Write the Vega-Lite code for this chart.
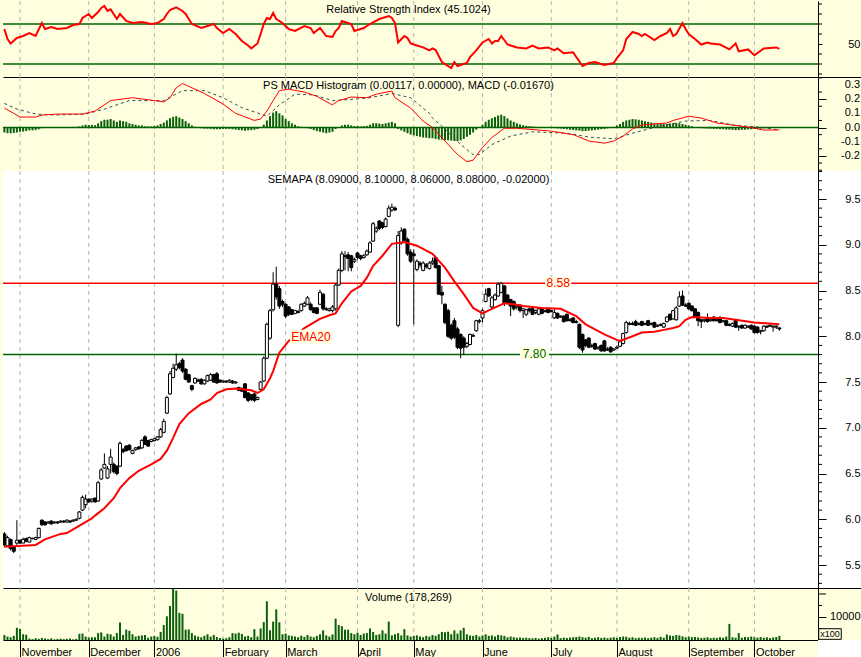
{
"$schema": "https://vega.github.io/schema/vega-lite/v6.json",
"padding": 0,
"spacing": 0,
"bounds": "flush",
"background": "#ffffe0",
"config": {
  "view": {"stroke": null},
  "font": "Liberation Sans",
  "scale": {"continuousPadding": 0},
  "title": {"font": "Liberation Sans", "fontSize": 11, "fontWeight": "normal", "color": "black", "anchor": "middle", "frame": "group", "dx": -25},
  "axis": {"labelFont": "Liberation Sans", "labelFontSize": 11, "labelColor": "black", "domainColor": "black", "tickColor": "black", "labelOverlap": false, "labelFlush": false}
},
"datasets": {
  "months": [{"i":0},{"i":22},{"i":43},{"i":65},{"i":85},{"i":108},{"i":126},{"i":148},{"i":170},{"i":191},{"i":214},{"i":235}],
  "px": [
{"i":-5,"o":5.84,"h":5.86,"l":5.70,"c":5.72,"v":2200,"g":-0.035},
{"i":-4,"o":5.71,"h":5.82,"l":5.70,"c":5.80,"v":1500,"g":-0.04},
{"i":-3,"o":5.78,"h":5.79,"l":5.66,"c":5.68,"v":1200,"g":-0.04},
{"i":-2,"o":5.70,"h":5.71,"l":5.63,"c":5.65,"v":1800,"g":-0.038},
{"i":-1,"o":5.74,"h":5.99,"l":5.72,"c":5.77,"v":5300,"g":-0.035},
{"i":0,"o":5.77,"h":5.78,"l":5.73,"c":5.74,"v":4800,"g":-0.03},
{"i":1,"o":5.74,"h":5.80,"l":5.74,"c":5.78,"v":2500,"g":-0.028},
{"i":2,"o":5.79,"h":5.80,"l":5.75,"c":5.76,"v":2300,"g":-0.025},
{"i":3,"o":5.75,"h":5.81,"l":5.75,"c":5.80,"v":600,"g":-0.02},
{"i":4,"o":5.79,"h":5.80,"l":5.78,"c":5.79,"v":400,"g":-0.02},
{"i":5,"o":5.78,"h":5.81,"l":5.77,"c":5.80,"v":800,"g":-0.018},
{"i":6,"o":5.80,"h":5.91,"l":5.79,"c":5.90,"v":500,"g":-0.012},
{"i":7,"o":5.99,"h":6.00,"l":5.93,"c":5.94,"v":900,"g":-0.005},
{"i":8,"o":5.97,"h":5.98,"l":5.93,"c":5.94,"v":600,"g":-0.003},
{"i":9,"o":5.96,"h":5.98,"l":5.95,"c":5.97,"v":400,"g":0.0},
{"i":10,"o":5.98,"h":5.99,"l":5.94,"c":5.95,"v":700,"g":0.002},
{"i":11,"o":5.96,"h":5.98,"l":5.95,"c":5.97,"v":300,"g":0.002},
{"i":12,"o":5.97,"h":5.98,"l":5.95,"c":5.96,"v":500,"g":0.003},
{"i":13,"o":5.97,"h":5.99,"l":5.96,"c":5.98,"v":600,"g":0.003},
{"i":14,"o":5.98,"h":5.99,"l":5.96,"c":5.97,"v":400,"g":0.003},
{"i":15,"o":5.97,"h":6.00,"l":5.96,"c":5.99,"v":500,"g":0.004},
{"i":16,"o":5.98,"h":5.99,"l":5.96,"c":5.97,"v":600,"g":0.004},
{"i":17,"o":5.98,"h":6.00,"l":5.97,"c":5.99,"v":300,"g":0.005},
{"i":18,"o":5.99,"h":6.01,"l":5.98,"c":6.00,"v":500,"g":0.005},
{"i":19,"o":6.01,"h":6.09,"l":6.00,"c":6.08,"v":2700,"g":0.008},
{"i":20,"o":6.10,"h":6.26,"l":6.09,"c":6.24,"v":2800,"g":0.015},
{"i":21,"o":6.16,"h":6.27,"l":6.12,"c":6.22,"v":1500,"g":0.02},
{"i":22,"o":6.22,"h":6.23,"l":6.18,"c":6.19,"v":1000,"g":0.018},
{"i":23,"o":6.20,"h":6.23,"l":6.18,"c":6.22,"v":1200,"g":0.018},
{"i":24,"o":6.23,"h":6.24,"l":6.18,"c":6.19,"v":1200,"g":0.016},
{"i":25,"o":6.20,"h":6.42,"l":6.19,"c":6.40,"v":3000,"g":0.03},
{"i":26,"o":6.44,"h":6.56,"l":6.43,"c":6.54,"v":3300,"g":0.045},
{"i":27,"o":6.56,"h":6.72,"l":6.55,"c":6.60,"v":1500,"g":0.055},
{"i":28,"o":6.45,"h":6.58,"l":6.44,"c":6.55,"v":2700,"g":0.055},
{"i":29,"o":6.60,"h":6.77,"l":6.50,"c":6.68,"v":2500,"g":0.06},
{"i":30,"o":6.60,"h":6.62,"l":6.50,"c":6.52,"v":1500,"g":0.05},
{"i":31,"o":6.58,"h":6.59,"l":6.48,"c":6.50,"v":3000,"g":0.04},
{"i":32,"o":6.58,"h":6.85,"l":6.57,"c":6.83,"v":7600,"g":0.05},
{"i":33,"o":6.76,"h":6.78,"l":6.72,"c":6.74,"v":2200,"g":0.045},
{"i":34,"o":6.80,"h":6.81,"l":6.74,"c":6.75,"v":4500,"g":0.04},
{"i":35,"o":6.81,"h":6.82,"l":6.75,"c":6.76,"v":4000,"g":0.03},
{"i":36,"o":6.72,"h":6.76,"l":6.71,"c":6.75,"v":2500,"g":0.025},
{"i":37,"o":6.76,"h":6.79,"l":6.75,"c":6.78,"v":1500,"g":0.02},
{"i":38,"o":6.79,"h":6.80,"l":6.76,"c":6.77,"v":1800,"g":0.015},
{"i":39,"o":6.78,"h":6.88,"l":6.77,"c":6.86,"v":2000,"g":0.015},
{"i":40,"o":6.90,"h":6.92,"l":6.81,"c":6.82,"v":2200,"g":0.01},
{"i":41,"o":6.86,"h":6.87,"l":6.79,"c":6.80,"v":1000,"g":0.008},
{"i":42,"o":6.85,"h":6.88,"l":6.84,"c":6.87,"v":1500,"g":0.008},
{"i":43,"o":6.86,"h":6.89,"l":6.85,"c":6.88,"v":1800,"g":0.01},
{"i":44,"o":6.87,"h":6.91,"l":6.86,"c":6.90,"v":1400,"g":0.015},
{"i":45,"o":6.90,"h":7.00,"l":6.89,"c":6.98,"v":3500,"g":0.025},
{"i":46,"o":6.95,"h":7.10,"l":6.94,"c":7.07,"v":6500,"g":0.035},
{"i":47,"o":7.16,"h":7.35,"l":7.15,"c":7.33,"v":10300,"g":0.05},
{"i":48,"o":7.37,"h":7.62,"l":7.36,"c":7.59,"v":14800,"g":0.065},
{"i":49,"o":7.55,"h":7.70,"l":7.54,"c":7.65,"v":22400,"g":0.075},
{"i":50,"o":7.64,"h":7.81,"l":7.62,"c":7.69,"v":21500,"g":0.08},
{"i":51,"o":7.70,"h":7.72,"l":7.64,"c":7.66,"v":11800,"g":0.07},
{"i":52,"o":7.74,"h":7.76,"l":7.60,"c":7.62,"v":11400,"g":0.06},
{"i":53,"o":7.64,"h":7.65,"l":7.52,"c":7.53,"v":4500,"g":0.045},
{"i":54,"o":7.58,"h":7.59,"l":7.49,"c":7.50,"v":4600,"g":0.03},
{"i":55,"o":7.46,"h":7.47,"l":7.40,"c":7.42,"v":3000,"g":0.015},
{"i":56,"o":7.49,"h":7.55,"l":7.48,"c":7.54,"v":2000,"g":0.005},
{"i":57,"o":7.52,"h":7.54,"l":7.50,"c":7.51,"v":1500,"g":0.0},
{"i":58,"o":7.53,"h":7.54,"l":7.47,"c":7.48,"v":1200,"g":-0.005},
{"i":59,"o":7.48,"h":7.53,"l":7.47,"c":7.52,"v":1800,"g":-0.008},
{"i":60,"o":7.51,"h":7.58,"l":7.50,"c":7.57,"v":2500,"g":-0.008},
{"i":61,"o":7.52,"h":7.60,"l":7.51,"c":7.58,"v":1500,"g":-0.01},
{"i":62,"o":7.58,"h":7.59,"l":7.49,"c":7.50,"v":2200,"g":-0.012},
{"i":63,"o":7.59,"h":7.61,"l":7.48,"c":7.49,"v":1300,"g":-0.012},
{"i":64,"o":7.52,"h":7.53,"l":7.49,"c":7.50,"v":900,"g":-0.012},
{"i":65,"o":7.50,"h":7.52,"l":7.49,"c":7.51,"v":600,"g":-0.01},
{"i":66,"o":7.51,"h":7.52,"l":7.49,"c":7.50,"v":800,"g":-0.01},
{"i":67,"o":7.50,"h":7.53,"l":7.49,"c":7.52,"v":1200,"g":-0.01},
{"i":68,"o":7.51,"h":7.52,"l":7.48,"c":7.49,"v":3000,"g":-0.012},
{"i":69,"o":7.49,"h":7.51,"l":7.48,"c":7.50,"v":2800,"g":-0.015},
{"i":70,"o":7.44,"h":7.45,"l":7.40,"c":7.41,"v":3200,"g":-0.018},
{"i":71,"o":7.43,"h":7.44,"l":7.39,"c":7.40,"v":2600,"g":-0.02},
{"i":72,"o":7.48,"h":7.49,"l":7.32,"c":7.33,"v":1500,"g":-0.022},
{"i":73,"o":7.38,"h":7.39,"l":7.28,"c":7.30,"v":1800,"g":-0.02},
{"i":74,"o":7.36,"h":7.37,"l":7.29,"c":7.31,"v":1200,"g":-0.018},
{"i":75,"o":7.37,"h":7.38,"l":7.28,"c":7.30,"v":4700,"g":-0.015},
{"i":76,"o":7.31,"h":7.34,"l":7.30,"c":7.33,"v":1500,"g":-0.01},
{"i":77,"o":7.42,"h":7.51,"l":7.41,"c":7.50,"v":5000,"g":0.0},
{"i":78,"o":7.51,"h":7.78,"l":7.50,"c":7.76,"v":7800,"g":0.02},
{"i":79,"o":7.76,"h":8.15,"l":7.75,"c":8.13,"v":16800,"g":0.05},
{"i":80,"o":7.98,"h":8.30,"l":7.96,"c":8.28,"v":4200,"g":0.08},
{"i":81,"o":8.29,"h":8.70,"l":8.27,"c":8.57,"v":8000,"g":0.105},
{"i":82,"o":8.57,"h":8.76,"l":8.40,"c":8.43,"v":13300,"g":0.115},
{"i":83,"o":8.52,"h":8.55,"l":8.30,"c":8.33,"v":7700,"g":0.1},
{"i":84,"o":8.38,"h":8.40,"l":8.32,"c":8.35,"v":2500,"g":0.085},
{"i":85,"o":8.35,"h":8.36,"l":8.20,"c":8.22,"v":2800,"g":0.06},
{"i":86,"o":8.32,"h":8.33,"l":8.22,"c":8.24,"v":2000,"g":0.045},
{"i":87,"o":8.29,"h":8.30,"l":8.23,"c":8.24,"v":1800,"g":0.03},
{"i":88,"o":8.25,"h":8.29,"l":8.24,"c":8.28,"v":1500,"g":0.02},
{"i":89,"o":8.27,"h":8.29,"l":8.25,"c":8.26,"v":1200,"g":0.01},
{"i":90,"o":8.28,"h":8.36,"l":8.27,"c":8.35,"v":1900,"g":0.005},
{"i":91,"o":8.33,"h":8.38,"l":8.32,"c":8.36,"v":1400,"g":0.0},
{"i":92,"o":8.35,"h":8.44,"l":8.34,"c":8.42,"v":2200,"g":-0.005},
{"i":93,"o":8.35,"h":8.37,"l":8.28,"c":8.29,"v":1500,"g":-0.01},
{"i":94,"o":8.31,"h":8.32,"l":8.25,"c":8.26,"v":1200,"g":-0.018},
{"i":95,"o":8.31,"h":8.32,"l":8.24,"c":8.25,"v":1800,"g":-0.025},
{"i":96,"o":8.35,"h":8.51,"l":8.34,"c":8.48,"v":2500,"g":-0.03},
{"i":97,"o":8.46,"h":8.47,"l":8.28,"c":8.30,"v":4200,"g":-0.035},
{"i":98,"o":8.30,"h":8.32,"l":8.28,"c":8.29,"v":2000,"g":-0.04},
{"i":99,"o":8.28,"h":8.31,"l":8.27,"c":8.30,"v":1500,"g":-0.035},
{"i":100,"o":8.28,"h":8.34,"l":8.26,"c":8.32,"v":2400,"g":-0.03},
{"i":101,"o":8.30,"h":8.58,"l":8.28,"c":8.56,"v":9300,"g":-0.01},
{"i":102,"o":8.56,"h":8.74,"l":8.55,"c":8.72,"v":6500,"g":0.0},
{"i":103,"o":8.72,"h":8.93,"l":8.70,"c":8.90,"v":6000,"g":0.015},
{"i":104,"o":8.88,"h":8.93,"l":8.72,"c":8.87,"v":4500,"g":0.02},
{"i":105,"o":8.89,"h":8.92,"l":8.71,"c":8.85,"v":4500,"g":0.02},
{"i":106,"o":8.88,"h":8.89,"l":8.71,"c":8.75,"v":3000,"g":0.015},
{"i":107,"o":8.82,"h":8.86,"l":8.80,"c":8.84,"v":2500,"g":0.01},
{"i":108,"o":8.91,"h":8.92,"l":8.84,"c":8.86,"v":3200,"g":0.01},
{"i":109,"o":8.88,"h":8.89,"l":8.83,"c":8.85,"v":2200,"g":0.008},
{"i":110,"o":8.86,"h":8.90,"l":8.85,"c":8.88,"v":2800,"g":0.01},
{"i":111,"o":8.89,"h":8.95,"l":8.88,"c":8.93,"v":3000,"g":0.012},
{"i":112,"o":8.92,"h":9.04,"l":8.91,"c":9.02,"v":5000,"g":0.02},
{"i":113,"o":9.04,"h":9.25,"l":9.03,"c":9.23,"v":3500,"g":0.03},
{"i":114,"o":9.15,"h":9.20,"l":9.13,"c":9.18,"v":2200,"g":0.03},
{"i":115,"o":9.26,"h":9.27,"l":9.16,"c":9.18,"v":2500,"g":0.028},
{"i":116,"o":9.24,"h":9.25,"l":9.17,"c":9.19,"v":4200,"g":0.025},
{"i":117,"o":9.20,"h":9.30,"l":9.19,"c":9.28,"v":2800,"g":0.03},
{"i":118,"o":9.31,"h":9.43,"l":9.30,"c":9.40,"v":8000,"g":0.035},
{"i":119,"o":9.38,"h":9.45,"l":9.36,"c":9.41,"v":2000,"g":0.04},
{"i":120,"o":9.40,"h":9.42,"l":9.37,"c":9.38,"v":2500,"g":0.03},
{"i":121,"o":8.12,"h":9.15,"l":8.10,"c":9.10,"v":3000,"g":-0.01},
{"i":122,"o":9.02,"h":9.19,"l":9.00,"c":9.15,"v":2000,"g":-0.02},
{"i":123,"o":9.17,"h":9.18,"l":9.02,"c":9.05,"v":4700,"g":-0.03},
{"i":124,"o":9.06,"h":9.08,"l":8.88,"c":8.90,"v":2000,"g":-0.04},
{"i":125,"o":8.92,"h":8.95,"l":8.80,"c":8.82,"v":1500,"g":-0.05},
{"i":126,"o":8.90,"h":8.95,"l":8.13,"c":8.88,"v":1800,"g":-0.055},
{"i":127,"o":8.73,"h":8.84,"l":8.71,"c":8.82,"v":2000,"g":-0.06},
{"i":128,"o":8.80,"h":8.82,"l":8.75,"c":8.78,"v":1500,"g":-0.065},
{"i":129,"o":8.72,"h":8.82,"l":8.71,"c":8.80,"v":1200,"g":-0.07},
{"i":130,"o":8.78,"h":8.80,"l":8.74,"c":8.76,"v":1800,"g":-0.072},
{"i":131,"o":8.74,"h":8.82,"l":8.73,"c":8.80,"v":1500,"g":-0.075},
{"i":132,"o":8.80,"h":8.86,"l":8.78,"c":8.82,"v":2200,"g":-0.075},
{"i":133,"o":8.86,"h":8.88,"l":8.74,"c":8.75,"v":1800,"g":-0.08},
{"i":134,"o":8.77,"h":8.78,"l":8.45,"c":8.46,"v":2500,"g":-0.085},
{"i":135,"o":8.48,"h":8.55,"l":8.35,"c":8.45,"v":3500,"g":-0.085},
{"i":136,"o":8.35,"h":8.36,"l":8.13,"c":8.15,"v":3400,"g":-0.09},
{"i":137,"o":8.28,"h":8.30,"l":7.98,"c":8.00,"v":3600,"g":-0.09},
{"i":138,"o":8.12,"h":8.14,"l":7.96,"c":7.98,"v":2500,"g":-0.092},
{"i":139,"o":8.17,"h":8.20,"l":7.97,"c":7.99,"v":4200,"g":-0.095},
{"i":140,"o":8.08,"h":8.10,"l":7.86,"c":7.88,"v":2800,"g":-0.095},
{"i":141,"o":8.02,"h":8.03,"l":7.76,"c":7.87,"v":4200,"g":-0.09},
{"i":142,"o":7.98,"h":8.00,"l":7.80,"c":7.88,"v":5300,"g":-0.08},
{"i":143,"o":7.89,"h":7.94,"l":7.87,"c":7.92,"v":2500,"g":-0.065},
{"i":144,"o":7.91,"h":8.03,"l":7.90,"c":8.02,"v":2000,"g":-0.05},
{"i":145,"o":8.00,"h":8.03,"l":7.99,"c":8.01,"v":1800,"g":-0.035},
{"i":146,"o":8.06,"h":8.18,"l":8.05,"c":8.17,"v":2200,"g":-0.015},
{"i":147,"o":8.16,"h":8.19,"l":8.14,"c":8.17,"v":1500,"g":0.0},
{"i":148,"o":8.20,"h":8.30,"l":8.15,"c":8.28,"v":2000,"g":0.02},
{"i":149,"o":8.38,"h":8.52,"l":8.37,"c":8.46,"v":2500,"g":0.04},
{"i":150,"o":8.52,"h":8.53,"l":8.43,"c":8.44,"v":1800,"g":0.055},
{"i":151,"o":8.32,"h":8.44,"l":8.30,"c":8.42,"v":2000,"g":0.065},
{"i":152,"o":8.40,"h":8.47,"l":8.39,"c":8.45,"v":1500,"g":0.075},
{"i":153,"o":8.44,"h":8.59,"l":8.43,"c":8.57,"v":2200,"g":0.085},
{"i":154,"o":8.48,"h":8.59,"l":8.47,"c":8.58,"v":2000,"g":0.09},
{"i":155,"o":8.55,"h":8.56,"l":8.33,"c":8.36,"v":1800,"g":0.08},
{"i":156,"o":8.45,"h":8.46,"l":8.35,"c":8.37,"v":1200,"g":0.065},
{"i":157,"o":8.40,"h":8.41,"l":8.22,"c":8.33,"v":1500,"g":0.05},
{"i":158,"o":8.38,"h":8.39,"l":8.28,"c":8.30,"v":1200,"g":0.04},
{"i":159,"o":8.32,"h":8.35,"l":8.29,"c":8.33,"v":1000,"g":0.03},
{"i":160,"o":8.34,"h":8.35,"l":8.26,"c":8.28,"v":1100,"g":0.022},
{"i":161,"o":8.28,"h":8.31,"l":8.20,"c":8.30,"v":900,"g":0.016},
{"i":162,"o":8.24,"h":8.30,"l":8.22,"c":8.29,"v":1000,"g":0.012},
{"i":163,"o":8.30,"h":8.31,"l":8.26,"c":8.28,"v":800,"g":0.01},
{"i":164,"o":8.30,"h":8.31,"l":8.23,"c":8.24,"v":700,"g":0.008},
{"i":165,"o":8.26,"h":8.29,"l":8.24,"c":8.28,"v":900,"g":0.005},
{"i":166,"o":8.24,"h":8.31,"l":8.23,"c":8.30,"v":600,"g":0.004},
{"i":167,"o":8.30,"h":8.31,"l":8.24,"c":8.25,"v":800,"g":0.003},
{"i":168,"o":8.27,"h":8.29,"l":8.26,"c":8.28,"v":1000,"g":0.002},
{"i":169,"o":8.30,"h":8.31,"l":8.25,"c":8.26,"v":1200,"g":0.0},
{"i":170,"o":8.28,"h":8.29,"l":8.26,"c":8.27,"v":900,"g":-0.002},
{"i":171,"o":8.20,"h":8.30,"l":8.19,"c":8.26,"v":1500,"g":-0.004},
{"i":172,"o":8.25,"h":8.26,"l":8.19,"c":8.20,"v":2400,"g":-0.006},
{"i":173,"o":8.22,"h":8.23,"l":8.20,"c":8.21,"v":800,"g":-0.008},
{"i":174,"o":8.22,"h":8.23,"l":8.15,"c":8.16,"v":1000,"g":-0.01},
{"i":175,"o":8.24,"h":8.25,"l":8.16,"c":8.17,"v":900,"g":-0.012},
{"i":176,"o":8.18,"h":8.20,"l":8.16,"c":8.17,"v":1100,"g":-0.015},
{"i":177,"o":8.20,"h":8.21,"l":8.14,"c":8.15,"v":1200,"g":-0.018},
{"i":178,"o":8.16,"h":8.18,"l":8.14,"c":8.15,"v":1300,"g":-0.02},
{"i":179,"o":8.13,"h":8.14,"l":7.86,"c":7.88,"v":1500,"g":-0.022},
{"i":180,"o":8.02,"h":8.03,"l":7.82,"c":7.85,"v":1200,"g":-0.025},
{"i":181,"o":7.96,"h":7.97,"l":7.88,"c":7.90,"v":1000,"g":-0.025},
{"i":182,"o":7.98,"h":7.99,"l":7.87,"c":7.88,"v":1400,"g":-0.022},
{"i":183,"o":7.89,"h":7.92,"l":7.87,"c":7.90,"v":800,"g":-0.02},
{"i":184,"o":7.92,"h":7.93,"l":7.85,"c":7.86,"v":1000,"g":-0.018},
{"i":185,"o":7.87,"h":7.89,"l":7.85,"c":7.88,"v":1200,"g":-0.015},
{"i":186,"o":7.90,"h":7.91,"l":7.83,"c":7.84,"v":900,"g":-0.012},
{"i":187,"o":7.95,"h":7.96,"l":7.83,"c":7.84,"v":1100,"g":-0.01},
{"i":188,"o":7.86,"h":7.88,"l":7.84,"c":7.85,"v":800,"g":-0.006},
{"i":189,"o":7.88,"h":7.89,"l":7.82,"c":7.83,"v":1000,"g":-0.002},
{"i":190,"o":7.85,"h":7.87,"l":7.84,"c":7.86,"v":1200,"g":0.005},
{"i":191,"o":7.87,"h":7.90,"l":7.86,"c":7.88,"v":900,"g":0.015},
{"i":192,"o":7.89,"h":7.95,"l":7.88,"c":7.94,"v":1300,"g":0.025},
{"i":193,"o":7.92,"h":8.04,"l":7.91,"c":8.03,"v":1500,"g":0.04},
{"i":194,"o":8.04,"h":8.17,"l":8.03,"c":8.15,"v":1400,"g":0.05},
{"i":195,"o":8.13,"h":8.16,"l":8.12,"c":8.14,"v":1000,"g":0.055},
{"i":196,"o":8.14,"h":8.16,"l":8.12,"c":8.13,"v":1200,"g":0.06},
{"i":197,"o":8.16,"h":8.18,"l":8.11,"c":8.12,"v":800,"g":0.058},
{"i":198,"o":8.13,"h":8.15,"l":8.12,"c":8.14,"v":1000,"g":0.055},
{"i":199,"o":8.16,"h":8.17,"l":8.11,"c":8.12,"v":900,"g":0.05},
{"i":200,"o":8.13,"h":8.15,"l":8.12,"c":8.14,"v":1100,"g":0.045},
{"i":201,"o":8.17,"h":8.18,"l":8.11,"c":8.12,"v":800,"g":0.04},
{"i":202,"o":8.13,"h":8.15,"l":8.12,"c":8.14,"v":1000,"g":0.035},
{"i":203,"o":8.15,"h":8.16,"l":8.09,"c":8.10,"v":1200,"g":0.03},
{"i":204,"o":8.11,"h":8.13,"l":8.10,"c":8.12,"v":900,"g":0.028},
{"i":205,"o":8.12,"h":8.14,"l":8.11,"c":8.13,"v":1400,"g":0.026},
{"i":206,"o":8.10,"h":8.15,"l":8.09,"c":8.14,"v":1000,"g":0.025},
{"i":207,"o":8.16,"h":8.22,"l":8.15,"c":8.21,"v":2400,"g":0.025},
{"i":208,"o":8.24,"h":8.25,"l":8.17,"c":8.18,"v":2000,"g":0.028},
{"i":209,"o":8.19,"h":8.29,"l":8.18,"c":8.28,"v":1800,"g":0.03},
{"i":210,"o":8.18,"h":8.33,"l":8.17,"c":8.31,"v":2200,"g":0.032},
{"i":211,"o":8.33,"h":8.49,"l":8.32,"c":8.43,"v":2000,"g":0.03},
{"i":212,"o":8.44,"h":8.50,"l":8.33,"c":8.34,"v":1600,"g":0.025},
{"i":213,"o":8.34,"h":8.36,"l":8.32,"c":8.33,"v":1200,"g":0.02},
{"i":214,"o":8.36,"h":8.37,"l":8.29,"c":8.30,"v":1500,"g":0.015},
{"i":215,"o":8.33,"h":8.34,"l":8.27,"c":8.28,"v":1200,"g":0.01},
{"i":216,"o":8.30,"h":8.31,"l":8.20,"c":8.21,"v":1300,"g":0.003},
{"i":217,"o":8.26,"h":8.27,"l":8.11,"c":8.17,"v":1100,"g":-0.002},
{"i":218,"o":8.18,"h":8.19,"l":8.09,"c":8.16,"v":900,"g":-0.005},
{"i":219,"o":8.17,"h":8.19,"l":8.15,"c":8.18,"v":1000,"g":-0.006},
{"i":220,"o":8.20,"h":8.25,"l":8.15,"c":8.16,"v":1200,"g":-0.008},
{"i":221,"o":8.17,"h":8.19,"l":8.16,"c":8.18,"v":800,"g":-0.008},
{"i":222,"o":8.21,"h":8.22,"l":8.16,"c":8.17,"v":1000,"g":-0.01},
{"i":223,"o":8.18,"h":8.19,"l":8.16,"c":8.17,"v":900,"g":-0.01},
{"i":224,"o":8.20,"h":8.22,"l":8.14,"c":8.15,"v":1200,"g":-0.012},
{"i":225,"o":8.16,"h":8.18,"l":8.15,"c":8.17,"v":1000,"g":-0.012},
{"i":226,"o":8.17,"h":8.18,"l":8.11,"c":8.12,"v":1500,"g":-0.014},
{"i":227,"o":8.13,"h":8.14,"l":8.11,"c":8.12,"v":7000,"g":-0.015},
{"i":228,"o":8.11,"h":8.15,"l":8.10,"c":8.14,"v":1200,"g":-0.016},
{"i":229,"o":8.18,"h":8.19,"l":8.09,"c":8.10,"v":1000,"g":-0.018},
{"i":230,"o":8.11,"h":8.12,"l":8.06,"c":8.10,"v":3000,"g":-0.018},
{"i":231,"o":8.12,"h":8.13,"l":8.08,"c":8.09,"v":1000,"g":-0.016},
{"i":232,"o":8.09,"h":8.13,"l":8.08,"c":8.12,"v":1300,"g":-0.015},
{"i":233,"o":8.11,"h":8.12,"l":8.09,"c":8.10,"v":1200,"g":-0.013},
{"i":234,"o":8.12,"h":8.13,"l":8.07,"c":8.08,"v":1500,"g":-0.012},
{"i":235,"o":8.11,"h":8.12,"l":8.03,"c":8.04,"v":1200,"g":-0.01},
{"i":236,"o":8.10,"h":8.11,"l":8.03,"c":8.04,"v":1000,"g":-0.009},
{"i":237,"o":8.05,"h":8.07,"l":8.02,"c":8.06,"v":1300,"g":-0.008},
{"i":238,"o":8.06,"h":8.12,"l":8.05,"c":8.11,"v":1000,"g":-0.006},
{"i":239,"o":8.11,"h":8.12,"l":8.09,"c":8.10,"v":1200,"g":-0.005},
{"i":240,"o":8.11,"h":8.13,"l":8.10,"c":8.12,"v":900,"g":-0.004},
{"i":241,"o":8.10,"h":8.12,"l":8.05,"c":8.11,"v":1100,"g":-0.002},
{"i":242,"o":8.11,"h":8.12,"l":8.08,"c":8.10,"v":1300,"g":0.0},
{"i":243,"o":8.09,"h":8.10,"l":8.06,"c":8.08,"v":1783,"g":0.001}
  ],
  "rsi": [
{"i":-5,"r":65},{"i":-4,"r":55},{"i":-3,"r":50.5},{"i":-1,"r":56},{"i":1,"r":58},{"i":3,"r":61},{"i":5,"r":58},{"i":7,"r":71},{"i":8,"r":65},{"i":10,"r":67},{"i":12,"r":65},{"i":15,"r":66},{"i":17,"r":69},{"i":19,"r":70},{"i":20,"r":76},{"i":22,"r":80},{"i":23,"r":76},{"i":25,"r":82},{"i":26,"r":86},{"i":27,"r":88},{"i":28,"r":83},{"i":29,"r":84.6},{"i":31,"r":75},{"i":32,"r":80},{"i":34,"r":73},{"i":36,"r":71},{"i":39,"r":72},{"i":42,"r":70},{"i":44,"r":71},{"i":46,"r":75},{"i":47,"r":80},{"i":48,"r":84},{"i":50,"r":86.6},{"i":52,"r":83},{"i":53,"r":80},{"i":55,"r":70},{"i":58,"r":66},{"i":60,"r":68},{"i":62,"r":70},{"i":63,"r":66},{"i":65,"r":61},{"i":67,"r":65},{"i":69,"r":60},{"i":71,"r":53},{"i":73,"r":48.5},{"i":74,"r":45.6},{"i":76,"r":50.5},{"i":77,"r":60},{"i":78,"r":70},{"i":79,"r":76},{"i":80,"r":75},{"i":81,"r":81},{"i":82,"r":75},{"i":84,"r":71},{"i":86,"r":65},{"i":88,"r":63},{"i":91,"r":68},{"i":93,"r":66},{"i":94,"r":61},{"i":96,"r":66},{"i":98,"r":58},{"i":100,"r":57},{"i":101,"r":63},{"i":102,"r":66},{"i":103,"r":73},{"i":106,"r":70},{"i":107,"r":63},{"i":110,"r":66},{"i":112,"r":70},{"i":115,"r":75},{"i":118,"r":78},{"i":119,"r":76},{"i":120,"r":71},{"i":121,"r":51.5},{"i":123,"r":58},{"i":124,"r":56},{"i":125,"r":50.5},{"i":127,"r":48.5},{"i":129,"r":46.6},{"i":131,"r":43.6},{"i":132,"r":45.6},{"i":133,"r":44},{"i":135,"r":32},{"i":138,"r":26},{"i":139,"r":32},{"i":140,"r":28},{"i":143,"r":31},{"i":144,"r":37},{"i":146,"r":43.6},{"i":148,"r":51.5},{"i":150,"r":55},{"i":151,"r":50.5},{"i":152,"r":53},{"i":153,"r":53},{"i":154,"r":58},{"i":156,"r":49.5},{"i":159,"r":46.6},{"i":162,"r":45.6},{"i":164,"r":48.5},{"i":166,"r":45.6},{"i":169,"r":46.6},{"i":171,"r":43.6},{"i":172,"r":45.6},{"i":174,"r":40.7},{"i":177,"r":41.7},{"i":178,"r":37},{"i":180,"r":28},{"i":182,"r":31},{"i":184,"r":32},{"i":187,"r":29},{"i":190,"r":31},{"i":191,"r":36},{"i":193,"r":43.6},{"i":194,"r":55},{"i":196,"r":62},{"i":198,"r":60},{"i":199,"r":58},{"i":200,"r":60},{"i":203,"r":54},{"i":205,"r":58},{"i":207,"r":61},{"i":208,"r":65},{"i":209,"r":58},{"i":210,"r":60},{"i":212,"r":71},{"i":213,"r":65},{"i":214,"r":60},{"i":216,"r":55},{"i":218,"r":49.5},{"i":220,"r":51.5},{"i":221,"r":50.5},{"i":224,"r":49.5},{"i":227,"r":44.6},{"i":229,"r":50.5},{"i":230,"r":42.7},{"i":233,"r":44.6},{"i":235,"r":38.8},{"i":238,"r":45.6},{"i":242,"r":46.6},{"i":243,"r":45.1}
  ],
  "ema": [
{"i":-5,"e":5.70},{"i":5,"e":5.72},{"i":8,"e":5.78},{"i":13,"e":5.84},{"i":15,"e":5.85},{"i":17,"e":5.89},{"i":20,"e":5.95},{"i":23,"e":6.01},{"i":24,"e":6.04},{"i":27,"e":6.12},{"i":30,"e":6.23},{"i":32,"e":6.34},{"i":35,"e":6.45},{"i":38,"e":6.53},{"i":42,"e":6.60},{"i":45,"e":6.66},{"i":47,"e":6.75},{"i":49,"e":6.89},{"i":51,"e":7.04},{"i":54,"e":7.16},{"i":58,"e":7.26},{"i":61,"e":7.31},{"i":63,"e":7.38},{"i":66,"e":7.42},{"i":69,"e":7.43},{"i":74,"e":7.41},{"i":76,"e":7.38},{"i":78,"e":7.42},{"i":80,"e":7.54},{"i":81,"e":7.62},{"i":83,"e":7.82},{"i":86,"e":7.95},{"i":91,"e":8.09},{"i":96,"e":8.19},{"i":99,"e":8.23},{"i":101,"e":8.25},{"i":103,"e":8.36},{"i":106,"e":8.49},{"i":109,"e":8.55},{"i":111,"e":8.64},{"i":113,"e":8.77},{"i":116,"e":8.88},{"i":119,"e":9.01},{"i":123,"e":9.03},{"i":127,"e":8.99},{"i":132,"e":8.90},{"i":136,"e":8.75},{"i":139,"e":8.60},{"i":142,"e":8.46},{"i":145,"e":8.31},{"i":148,"e":8.25},{"i":151,"e":8.30},{"i":155,"e":8.36},{"i":158,"e":8.35},{"i":161,"e":8.33},{"i":167,"e":8.31},{"i":173,"e":8.30},{"i":178,"e":8.22},{"i":181,"e":8.13},{"i":187,"e":8.02},{"i":191,"e":7.96},{"i":192,"e":7.95},{"i":196,"e":8.00},{"i":199,"e":8.04},{"i":203,"e":8.05},{"i":206,"e":8.07},{"i":209,"e":8.09},{"i":211,"e":8.11},{"i":213,"e":8.18},{"i":215,"e":8.21},{"i":221,"e":8.20},{"i":225,"e":8.20},{"i":229,"e":8.18},{"i":235,"e":8.15},{"i":243,"e":8.13}
  ],
  "macd": [
{"i":-5,"m":0.137},{"i":-2,"m":0.10},{"i":0,"m":0.074},{"i":5,"m":0.074},{"i":7,"m":0.088},{"i":12,"m":0.095},{"i":20,"m":0.095},{"i":24,"m":0.116},{"i":29,"m":0.19},{"i":36,"m":0.21},{"i":43,"m":0.19},{"i":46,"m":0.18},{"i":48,"m":0.21},{"i":50,"m":0.28},{"i":52,"m":0.31},{"i":54,"m":0.29},{"i":59,"m":0.24},{"i":65,"m":0.165},{"i":69,"m":0.10},{"i":75,"m":0.05},{"i":77,"m":0.06},{"i":79,"m":0.116},{"i":81,"m":0.19},{"i":83,"m":0.26},{"i":86,"m":0.27},{"i":91,"m":0.25},{"i":95,"m":0.22},{"i":99,"m":0.17},{"i":100,"m":0.16},{"i":102,"m":0.19},{"i":106,"m":0.215},{"i":111,"m":0.21},{"i":114,"m":0.235},{"i":119,"m":0.257},{"i":120,"m":0.21},{"i":125,"m":0.137},{"i":129,"m":0.046},{"i":132,"m":0.0},{"i":136,"m":-0.095},{"i":140,"m":-0.19},{"i":143,"m":-0.24},{"i":145,"m":-0.23},{"i":148,"m":-0.14},{"i":151,"m":-0.07},{"i":155,"m":-0.005},{"i":159,"m":-0.005},{"i":170,"m":-0.025},{"i":177,"m":-0.05},{"i":179,"m":-0.067},{"i":182,"m":-0.095},{"i":187,"m":-0.11},{"i":190,"m":-0.095},{"i":193,"m":-0.06},{"i":196,"m":-0.01},{"i":199,"m":0.018},{"i":207,"m":0.032},{"i":209,"m":0.05},{"i":214,"m":0.08},{"i":218,"m":0.067},{"i":223,"m":0.032},{"i":228,"m":0.018},{"i":234,"m":0.0},{"i":238,"m":-0.018},{"i":243,"m":-0.0167}
  ],
  "sig": [
{"i":-5,"s":0.17},{"i":-1,"s":0.13},{"i":5,"s":0.095},{"i":11,"s":0.088},{"i":21,"s":0.095},{"i":27,"s":0.13},{"i":35,"s":0.19},{"i":46,"s":0.19},{"i":52,"s":0.26},{"i":59,"s":0.26},{"i":65,"s":0.21},{"i":71,"s":0.14},{"i":79,"s":0.08},{"i":83,"s":0.16},{"i":88,"s":0.235},{"i":94,"s":0.23},{"i":100,"s":0.19},{"i":107,"s":0.20},{"i":112,"s":0.21},{"i":119,"s":0.24},{"i":125,"s":0.21},{"i":131,"s":0.10},{"i":132,"s":0.067},{"i":136,"s":-0.01},{"i":141,"s":-0.12},{"i":145,"s":-0.19},{"i":147,"s":-0.19},{"i":151,"s":-0.12},{"i":157,"s":-0.06},{"i":164,"s":-0.03},{"i":175,"s":-0.04},{"i":182,"s":-0.067},{"i":190,"s":-0.08},{"i":196,"s":-0.04},{"i":203,"s":0.0},{"i":213,"s":0.046},{"i":221,"s":0.05},{"i":228,"s":0.018},{"i":238,"s":0.0},{"i":243,"s":-0.018}
  ]
},
"vconcat": [
{
  "width": 861, "height": 76,
  "title": {"text": "Relative Strength Index (45.1024)", "offset": -14},
  "layer": [
    {"data": {"name": "months"}, "mark": {"type": "rule", "strokeDash": [4,4], "color": "#b4b4b4"},
     "encoding": {"x": {"field": "i", "type": "quantitative", "scale": {"domain": [-5.44, 270.08], "nice": false, "zero": false, "padding": 0},
       "axis": {"orient": "bottom", "domain": true, "ticks": false, "labels": false, "grid": false, "title": null}}}},
    {"data": {"values": [{"lvl": 70}, {"lvl": 30}]}, "mark": {"type": "rule", "color": "#006400", "strokeWidth": 1.5},
     "encoding": {"x": {"datum": -5.44, "type": "quantitative"}, "x2": {"datum": 255.4},
       "y": {"field": "lvl", "type": "quantitative", "scale": {"domain": [17, 93], "nice": false, "zero": false},
         "axis": {"orient": "right", "offset": -46, "title": null, "grid": false, "values": [50],
           "tickSize": 4, "labelAlign": "right", "labelPadding": 38, "labelOverlap": false}}}},
    {"data": {"values": [{"t": 20}, {"t": 30}, {"t": 40}, {"t": 60}, {"t": 70}, {"t": 80}, {"t": 90}]},
     "mark": {"type": "rule", "color": "black", "strokeWidth": 1},
     "encoding": {"x": {"datum": 255.36, "type": "quantitative"}, "x2": {"datum": 256.64}, "y": {"field": "t", "type": "quantitative"}}},
    {"data": {"name": "rsi"}, "mark": {"type": "line", "color": "#ff0000", "strokeWidth": 2},
     "encoding": {"x": {"field": "i", "type": "quantitative"}, "y": {"field": "r", "type": "quantitative"}}}
  ]
},
{
  "width": 861, "height": 94,
  "title": {"text": "PS MACD Histogram (0.00117, 0.00000), MACD (-0.01670)", "offset": -14},
  "layer": [
    {"data": {"name": "months"}, "mark": {"type": "rule", "strokeDash": [4,4], "color": "#b4b4b4"},
     "encoding": {"x": {"field": "i", "type": "quantitative", "scale": {"domain": [-5.44, 270.08], "nice": false, "zero": false, "padding": 0},
       "axis": {"orient": "bottom", "domain": true, "ticks": false, "labels": false, "grid": false, "title": null}}}},
    {"data": {"values": [{"lvl": 0}]}, "mark": {"type": "rule", "color": "#006400", "strokeWidth": 1.5},
     "encoding": {"x": {"datum": -5.44, "type": "quantitative"}, "x2": {"datum": 255.4},
       "y": {"field": "lvl", "type": "quantitative", "scale": {"domain": [-0.306, 0.356], "nice": false, "zero": false, "padding": 0},
         "axis": {"orient": "right", "offset": -46, "title": null, "grid": false,
           "values": [-0.2,-0.1,0,0.1,0.2,0.3], "labels": false, "tickSize": 8}}}},
    {"data": {"values": [{"t": -0.3}, {"t": -0.25}, {"t": -0.15}, {"t": -0.05}, {"t": 0.05}, {"t": 0.15}, {"t": 0.25}, {"t": 0.35}]},
     "mark": {"type": "rule", "color": "black", "strokeWidth": 1},
     "encoding": {"x": {"datum": 255.36, "type": "quantitative"}, "x2": {"datum": 256.64}, "y": {"field": "t", "type": "quantitative"}}},
    {"data": {"values": [{"t": 0.3, "s": "0.3"}, {"t": 0.2, "s": "0.2"}, {"t": 0.1, "s": "0.1"}, {"t": 0, "s": "0.0"}, {"t": -0.1, "s": "-0.1"}, {"t": -0.2, "s": "-0.2"}]},
     "mark": {"type": "text", "align": "right", "baseline": "middle", "fontSize": 11, "font": "Liberation Sans", "color": "black"},
     "encoding": {"x": {"datum": 268.8, "type": "quantitative"}, "y": {"field": "t", "type": "quantitative"}, "text": {"field": "s"}}},
    {"data": {"name": "px"}, "mark": {"type": "bar", "size": 2, "color": "#0a5f0a", "orient": "vertical"},
     "encoding": {"x": {"field": "i", "type": "quantitative"}, "y": {"field": "g", "type": "quantitative"}, "y2": {"datum": 0}}},
    {"data": {"name": "sig"}, "mark": {"type": "line", "color": "#2f4f4f", "strokeWidth": 1, "strokeDash": [3,3]},
     "encoding": {"x": {"field": "i", "type": "quantitative"}, "y": {"field": "s", "type": "quantitative"}}},
    {"data": {"name": "macd"}, "mark": {"type": "line", "color": "#ff0000", "strokeWidth": 1},
     "encoding": {"x": {"field": "i", "type": "quantitative"}, "y": {"field": "m", "type": "quantitative"}}}
  ]
},
{
  "width": 861, "height": 417,
  "view": {"fill": "white"},
  "title": {"text": "SEMAPA (8.09000, 8.10000, 8.06000, 8.08000, -0.02000)", "offset": -14},
  "layer": [
    {"data": {"name": "months"}, "mark": {"type": "rule", "strokeDash": [4,4], "color": "#b4b4b4"},
     "encoding": {"x": {"field": "i", "type": "quantitative", "scale": {"domain": [-5.44, 270.08], "nice": false, "zero": false, "padding": 0},
       "axis": {"orient": "bottom", "domain": true, "ticks": false, "labels": false, "grid": false, "title": null}}}},
    {"data": {"values": [{"lvl": 8.58, "k": "r"}, {"lvl": 7.80, "k": "g"}]}, "mark": {"type": "rule", "strokeWidth": 1.5},
     "encoding": {"x": {"datum": -5.44, "type": "quantitative"}, "x2": {"datum": 255.4},
       "color": {"field": "k", "type": "nominal", "scale": {"domain": ["r", "g"], "range": ["#ff0000", "#006400"]}, "legend": null},
       "y": {"field": "lvl", "type": "quantitative", "scale": {"domain": [5.249, 9.806], "nice": false, "zero": false, "padding": 0},
         "axis": {"orient": "right", "offset": -46, "title": null, "grid": false,
           "values": [5.5,6.0,6.5,7.0,7.5,8.0,8.5,9.0,9.5],
           "labelExpr": "format(datum.value, '.1f')",
           "tickSize": 8, "labelAlign": "right", "labelPadding": 34, "labelOverlap": false}}}},
    {"data": {"values": [{"t":5.3},{"t":5.4},{"t":5.6},{"t":5.7},{"t":5.8},{"t":5.9},{"t":6.1},{"t":6.2},{"t":6.3},{"t":6.4},{"t":6.6},{"t":6.7},{"t":6.8},{"t":6.9},{"t":7.1},{"t":7.2},{"t":7.3},{"t":7.4},{"t":7.6},{"t":7.7},{"t":7.8},{"t":7.9},{"t":8.1},{"t":8.2},{"t":8.3},{"t":8.4},{"t":8.6},{"t":8.7},{"t":8.8},{"t":8.9},{"t":9.1},{"t":9.2},{"t":9.3},{"t":9.4},{"t":9.6},{"t":9.7},{"t":9.8}]},
     "mark": {"type": "rule", "color": "black", "strokeWidth": 1},
     "encoding": {"x": {"datum": 255.36, "type": "quantitative"}, "x2": {"datum": 256.64}, "y": {"field": "t", "type": "quantitative"}}},
    {"data": {"name": "px"}, "mark": {"type": "rule", "color": "black", "strokeWidth": 1},
     "encoding": {"x": {"field": "i", "type": "quantitative"}, "y": {"field": "l", "type": "quantitative"}, "y2": {"field": "h"}}},
    {"data": {"name": "px"}, "mark": {"type": "bar", "size": 3, "stroke": "black", "strokeWidth": 1, "orient": "vertical", "clip": true},
     "encoding": {"x": {"field": "i", "type": "quantitative"}, "y": {"field": "o", "type": "quantitative"}, "y2": {"field": "c"},
       "fill": {"condition": {"test": "datum.c >= datum.o", "value": "white"}, "value": "black"}}},
    {"data": {"name": "ema"}, "mark": {"type": "line", "color": "#ff0000", "strokeWidth": 2},
     "encoding": {"x": {"field": "i", "type": "quantitative"}, "y": {"field": "e", "type": "quantitative"}}},
    {"data": {"values": [{"a": 168, "b": 176.4, "y1": 8.647, "y2": 8.524}, {"a": 160, "b": 169.3, "y1": 7.88, "y2": 7.75}, {"a": 86.4, "b": 99.8, "y1": 8.07, "y2": 7.92}]},
     "mark": {"type": "rect", "fill": "#ffffe0"},
     "encoding": {"x": {"field": "a", "type": "quantitative"}, "x2": {"field": "b"}, "y": {"field": "y1", "type": "quantitative"}, "y2": {"field": "y2"}}},
    {"data": {"values": [{"t": "8.58", "a": 172.2, "p": 8.585, "k": "r"}, {"t": "7.80", "a": 164.6, "p": 7.81, "k": "g"}, {"t": "EMA20", "a": 93.1, "p": 7.995, "k": "r"}]},
     "mark": {"type": "text", "fontSize": 12, "font": "Liberation Sans", "align": "center", "baseline": "middle"},
     "encoding": {"x": {"field": "a", "type": "quantitative"}, "y": {"field": "p", "type": "quantitative"}, "text": {"field": "t"},
       "color": {"field": "k", "type": "nominal", "scale": {"domain": ["r", "g"], "range": ["#ff0000", "#008000"]}, "legend": null}}}
  ]
},
{
  "width": 861, "height": 52,
  "title": {"text": "Volume (178,269)", "offset": -15},
  "layer": [
    {"data": {"values": [{"a": 255.36, "b": 270.08, "y1": 0, "y2": -8300}]}, "mark": {"type": "rect", "fill": "white", "clip": false},
     "encoding": {"x": {"field": "a", "type": "quantitative"}, "x2": {"field": "b"}, "y": {"field": "y1", "type": "quantitative"}, "y2": {"field": "y2"}}},
    {"data": {"name": "months"}, "mark": {"type": "rule", "strokeDash": [4,4], "color": "#b4b4b4"},
     "encoding": {"x": {"field": "i", "type": "quantitative", "scale": {"domain": [-5.44, 270.08], "nice": false, "zero": false, "padding": 0},
       "axis": {"orient": "bottom", "domain": true, "ticks": true, "tickSize": 18, "labels": true, "grid": false, "title": null,
         "values": [0,22,43,65,85,108,126,148,170,191,214,235],
         "labelExpr": "['November','December','2006','February','March','April','May','June','July','August','September','October'][indexof([0,22,43,65,85,108,126,148,170,191,214,235], datum.value)]",
         "labelAlign": "left", "labelBaseline": "middle", "labelPadding": -6, "labelOffset": 1, "labelBound": false, "labelOverlap": false}}}},
    {"data": {"name": "px"}, "mark": {"type": "bar", "size": 2, "color": "#0a5f0a", "orient": "vertical"},
     "encoding": {"x": {"field": "i", "type": "quantitative"},
       "y": {"field": "v", "type": "quantitative", "scale": {"domain": [0, 22600], "nice": false, "zero": false, "padding": 0},
         "axis": {"orient": "right", "offset": -46, "title": null, "grid": false, "values": [10000],
           "tickSize": 8, "labelAlign": "right", "labelPadding": 34, "labelOverlap": false, "format": "d"}},
       "y2": {"datum": 0}}},
    {"data": {"values": [{"t": 5000}, {"t": 15000}]},
     "mark": {"type": "rule", "color": "black", "strokeWidth": 1},
     "encoding": {"x": {"datum": 255.36, "type": "quantitative"}, "x2": {"datum": 256.64}, "y": {"field": "t", "type": "quantitative"}}},
    {"data": {"values": [{"t": 20000}]},
     "mark": {"type": "rule", "color": "black", "strokeWidth": 1},
     "encoding": {"x": {"datum": 255.36, "type": "quantitative"}, "x2": {"datum": 257.92}, "y": {"field": "t", "type": "quantitative"}}},
    {"data": {"values": [{"a": 255.6, "b": 262.8, "y1": 4900, "y2": 300}]}, "mark": {"type": "rect", "fill": "#ffffe0", "stroke": "black", "strokeWidth": 1},
     "encoding": {"x": {"field": "a", "type": "quantitative"}, "x2": {"field": "b"}, "y": {"field": "y1", "type": "quantitative"}, "y2": {"field": "y2"}}},
    {"data": {"values": [{"t": "x100", "a": 259.2, "p": 2600}]}, "mark": {"type": "text", "fontSize": 9, "font": "Liberation Sans", "align": "center", "baseline": "middle", "color": "black"},
     "encoding": {"x": {"field": "a", "type": "quantitative"}, "y": {"field": "p", "type": "quantitative"}, "text": {"field": "t"}}}
  ]
}
]
}
